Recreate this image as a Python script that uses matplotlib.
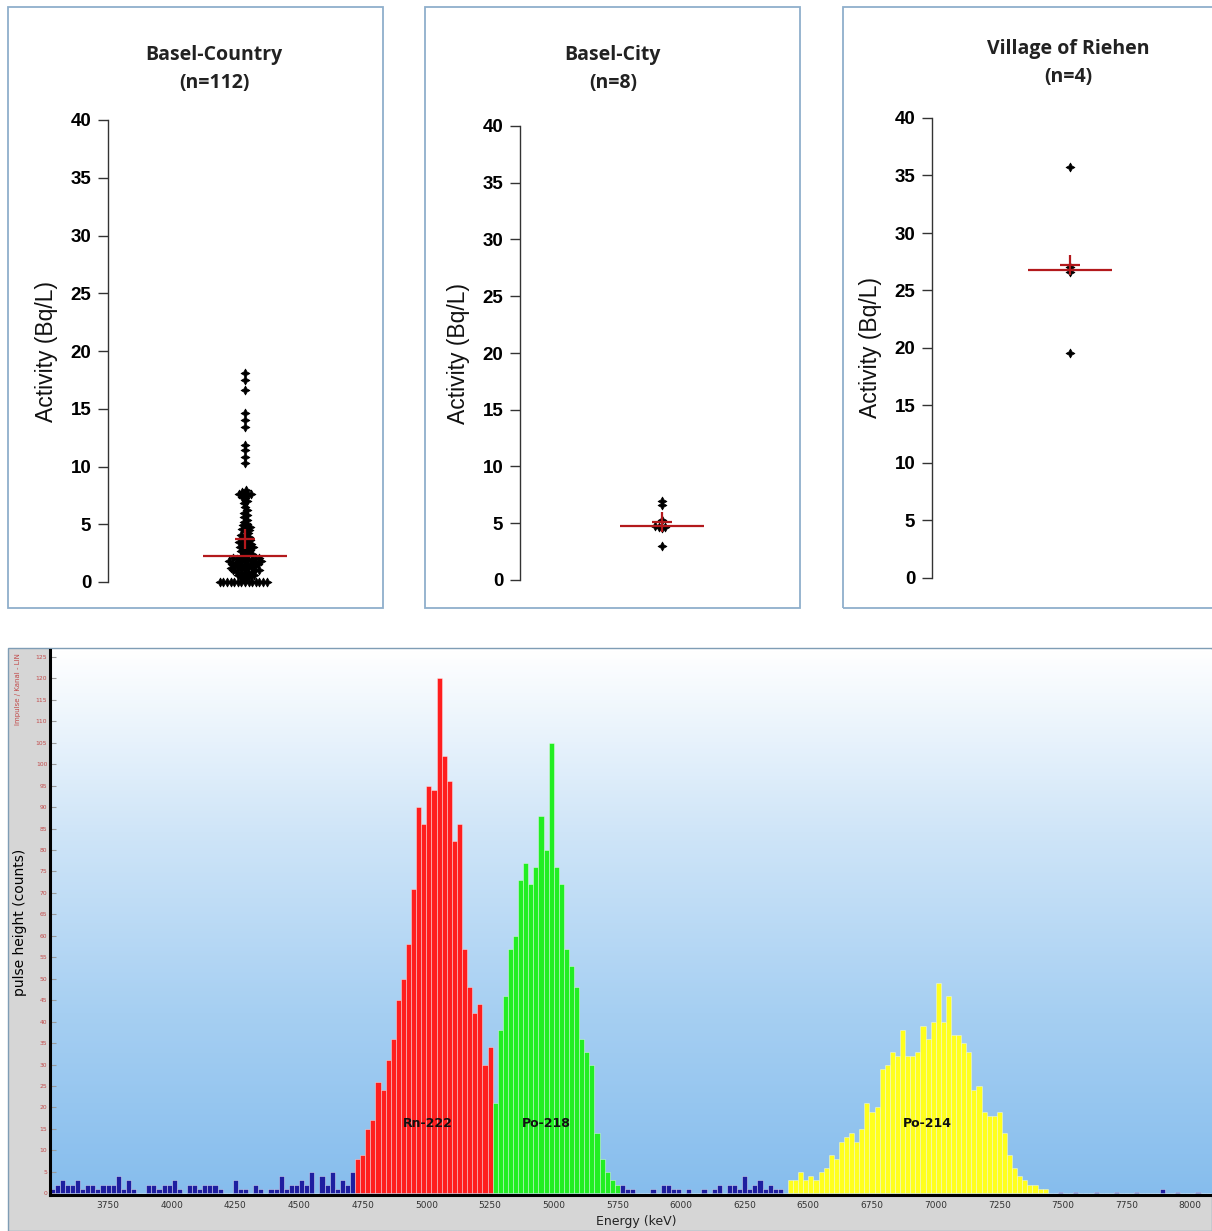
import numpy as np
import matplotlib.pyplot as plt
from matplotlib.patches import Rectangle
from matplotlib.colors import LinearSegmentedColormap

# === Data: radon activity per region (Bq/L) ===
titles = ["Basel-Country\n(n=112)", "Basel-City\n(n=8)", "Village of Riehen\n(n=4)"]

basel_country = [
    0.0, 0.0, 0.0, 0.0, 0.0, 0.0, 0.0, 0.0, 0.0, 0.0, 0.0, 0.0, 0.0, 0.0,
    0.3, 0.4, 0.4, 0.5, 0.6, 0.6, 0.7, 0.8, 0.8, 0.9, 0.9, 1.0,
    1.0, 1.0, 1.1, 1.1, 1.2, 1.2, 1.3, 1.3, 1.4, 1.4, 1.5, 1.5, 1.5,
    1.6, 1.6, 1.6, 1.7, 1.7, 1.8, 1.8, 1.8, 1.9, 1.9, 2.0, 2.0, 2.0,
    2.1, 2.1, 2.2, 2.2,
    2.3, 2.4, 2.5, 2.6, 2.7, 2.8, 2.9, 3.0,
    3.0, 3.1, 3.2, 3.3, 3.4, 3.5, 3.5, 3.6, 3.7, 3.8, 3.9, 4.0,
    4.1, 4.2, 4.4, 4.5, 4.6, 4.7, 4.8, 4.9, 5.0,
    5.2, 5.4, 5.6, 5.8, 6.0,
    6.2, 6.5, 6.8, 7.0,
    7.3, 7.4, 7.5, 7.6, 7.6, 7.7, 7.8, 8.0,
    10.3, 10.8, 11.4, 11.9,
    13.4, 14.0, 14.6,
    16.6, 17.5, 18.1,
]
basel_city = [7.0, 6.6, 5.3, 4.8, 4.7, 4.7, 4.6, 3.0]
riehen = [35.7, 27.0, 26.6, 19.6]
activity_sets = [basel_country, basel_city, riehen]

# === Data: alpha spectrum (counts per 20 keV bin) ===
bin_width = 20
noise_low_start = 3520
noise_low = [1, 2, 3, 2, 2, 3, 1, 2, 2, 1, 2, 2, 2, 4, 1, 3, 1, 0, 0, 2,
             2, 1, 2, 2, 3, 1, 0, 2, 2, 1, 2, 2, 2, 1, 0, 0, 3, 1, 1, 0,
             2, 1, 0, 1, 1, 4, 1, 2, 2, 3, 2, 5, 0, 4, 2, 5, 1, 3, 2, 5]
rn222_start = 4720
rn222 = [8, 9, 15, 17, 26, 24, 31, 36, 45, 50, 58, 71, 90, 86, 95, 94, 120,
         102, 96, 82, 86, 57, 48, 42, 44, 30, 34]
po218_start = 5260
po218 = [21, 38, 46, 57, 60, 73, 77, 72, 76, 88, 80, 105, 76, 72, 57, 53, 48,
         36, 33, 30, 14, 8, 5, 3, 2]
noise_mid_start = 5760
noise_mid = [2, 1, 1, 0, 0, 0, 1, 0, 2, 2, 1, 1, 0, 1, 0, 0, 1, 0, 1, 2,
             0, 2, 2, 1, 4, 1, 2, 3, 1, 2, 1, 1, 0]
po214_start = 6420
po214 = [3, 3, 5, 3, 4, 3, 5, 6, 9, 8, 12, 13, 14, 12, 15, 21, 19, 20, 29, 30,
         33, 32, 38, 32, 32, 33, 39, 36, 40, 49, 40, 46, 37, 37, 35, 33, 24, 25,
         19, 18, 18, 19, 14, 9, 6, 4, 3, 2, 2, 1, 1]
noise_high_start = 7440
noise_high = [0, 0, 0.3, 0, 0, 0.3, 0, 0, 0, 0.3, 0, 0, 0, 0.3, 0, 0, 0,
              0.3, 0, 0, 0, 0, 1, 0, 0, 0.3, 0, 0, 0, 0.3, 0, 0]

peak_names = ["Rn-222", "Po-218", "Po-214"]
peak_label_x = [5007, 5470, 6967]
peak_label_y = 16.3

energy_ticks = [3750, 4000, 4250, 4500, 4750, 5000, 5250, 5500, 5750, 6000,
                6250, 6500, 6750, 7000, 7250, 7500, 7750, 8000]
energy_tick_labels = ["3750", "4000", "4250", "4500", "4750", "5000", "5250",
                      "5000", "5750", "6000", "6250", "6500", "6750", "7000",
                      "7250", "7500", "7750", "8000"]

W, H = 1212, 1231
fig = plt.figure(figsize=(W / 100, H / 100), dpi=100)
fig.patch.set_facecolor("white")


def fx(x):
    return x / W


def fy(y):
    return 1 - y / H


def axes_px(x0, y0, x1, y1):
    return fig.add_axes([x0 / W, 1 - y1 / H, (x1 - x0) / W, (y1 - y0) / H])


def box_px(x0, y0, x1, y1, **kw):
    fig.add_artist(Rectangle((fx(x0), fy(y1)), (x1 - x0) / W, (y1 - y0) / H,
                             transform=fig.transFigure, **kw))


def swarm(values, ppu, d):
    # simple beeswarm in pixel space
    vals = np.asarray(values)
    xs = np.zeros(len(vals))
    placed = []
    for i in np.argsort(vals, kind="stable"):
        y = vals[i] * ppu
        near = [(px, py) for px, py in placed if abs(py - y) < d]
        cands = [0.0]
        for px, py in near:
            dx = np.sqrt(d * d - (py - y) ** 2)
            cands += [px - dx, px + dx]
        cands.sort(key=abs)
        for c in cands:
            if all((c - px) ** 2 + (y - py) ** 2 >= d * d - 1e-6 for px, py in near):
                xs[i] = c
                break
        placed.append((xs[i], y))
    return xs


# === Top panels ===
box_color = "#8FAFCB"
boxes = [(8, 7, 383, 608), (425, 7, 800, 608), (843, 7, 1215, 608)]
spine_x = [108, 520, 932]
y_zero = [582, 580, 578]
y_forty = [120, 126, 118]
centers = [245, 662, 1070]
title_pos = [(214, 69), (613, 69), (1068, 63)]
red = "#B3191C"

for k in range(3):
    box_px(*boxes[k], fill=False, ec=box_color, lw=1.3, zorder=-1)
    right = boxes[k][2] - 5
    ax = axes_px(spine_x[k], y_forty[k], right, y_zero[k])
    width_px = right - spine_x[k]
    ppu = (y_zero[k] - y_forty[k]) / 40.0
    vals = activity_sets[k]
    xs = swarm(vals, ppu, 3.6) + (centers[k] - spine_x[k])
    ax.scatter(xs, vals, marker=(4, 1, 0), s=40, color="black", lw=0.6,
               clip_on=False, zorder=3)
    cx = centers[k] - spine_x[k]
    med = np.median(vals)
    mean = np.mean(vals)
    ax.hlines(med, cx - 42, cx + 42, color=red, lw=1.6, zorder=4)
    ax.plot(cx, mean, marker="+", ms=14, mew=1.6, color=red, zorder=5)
    ax.set_xlim(0, width_px)
    ax.set_ylim(0, 40)
    ax.set_yticks(range(0, 41, 5))
    ax.set_xticks([])
    for s in ["top", "right", "bottom"]:
        ax.spines[s].set_visible(False)
    ax.spines["left"].set_color("#333333")
    ax.spines["left"].set_linewidth(1.0)
    ax.tick_params(axis="y", direction="out", length=7, width=1.0,
                   color="#333333", pad=5)
    for lab in ax.get_yticklabels():
        lab.set_fontfamily("Liberation Sans")
        lab.set_fontweight("bold")
        lab.set_fontsize(13.5)
    ax.patch.set_alpha(0)
    fig.text(fx(spine_x[k] - 62), fy((y_zero[k] + y_forty[k]) / 2),
             "Activity (Bq/L)", rotation=90, ha="center", va="center",
             fontsize=16.5, family="Liberation Sans", color="#111111")
    fig.text(fx(title_pos[k][0]), fy(title_pos[k][1]), titles[k],
             ha="center", va="center", fontsize=14, fontweight="bold",
             family="Open Sans", linespacing=1.5, color="#222222")

# === Spectrum panel ===
gray = "#D6D6D6"
box_px(8, 648, 49, 1231, color=gray, lw=0, zorder=-2)
box_px(8, 1196, 1212, 1231, color=gray, lw=0, zorder=-2)
box_px(8, 648, 1212, 1231, fill=False, ec="#7F9DB5", lw=1.0, zorder=-1)

axs = axes_px(50, 650, 1212, 1195)
x_lo, x_hi = 3522, 8085
y_lo, y_hi = -0.4, 126.6
grad = LinearSegmentedColormap.from_list(
    "bg", ["#86BDED", "#A6CFF2", "#CFE5F8", "#FFFFFF"])
axs.imshow(np.linspace(0, 1, 256).reshape(-1, 1), cmap=grad, origin="lower",
           extent=[x_lo, x_hi, y_lo, y_hi], aspect="auto", zorder=0)

segments = [
    (noise_low_start, noise_low, "#1E1EA0"),
    (rn222_start, rn222, "#FF1E1E"),
    (po218_start, po218, "#22EE22"),
    (noise_mid_start, noise_mid, "#1E1EA0"),
    (po214_start, po214, "#FFFF1E"),
    (noise_high_start, noise_high, "#1E1EA0"),
]
for start, counts, col in segments:
    lefts = start + bin_width * np.arange(len(counts))
    axs.bar(lefts, counts, width=bin_width, align="edge", color=col,
            edgecolor=(1, 1, 1, 0.45), linewidth=0.6, zorder=2)

for name, px in zip(peak_names, peak_label_x):
    axs.text(px, peak_label_y, name, ha="center", va="center", fontsize=9,
             fontweight="bold", color="#111111", zorder=5)

axs.set_xlim(x_lo, x_hi)
axs.set_ylim(y_lo, y_hi)
axs.set_xticks(energy_ticks)
axs.set_xticklabels(energy_tick_labels, fontsize=6.5, color="#333333")
axs.set_yticks(range(0, 126, 5))
axs.set_yticklabels([str(v) for v in range(0, 126, 5)], fontsize=4.3,
                    color="#C24A4A")
axs.tick_params(axis="x", length=0, pad=4)
axs.tick_params(axis="y", direction="in", length=4, color="#9A9A9A", pad=2)
for s in ["top", "right"]:
    axs.spines[s].set_visible(False)
axs.spines["left"].set_linewidth(2.2)
axs.spines["bottom"].set_linewidth(2.2)
axs.spines["left"].set_color("black")
axs.spines["bottom"].set_color("black")

fig.text(fx(18), fy(653), "Impulse / Kanal - LIN", rotation=90, ha="center",
         va="top", fontsize=5, color="#C24A4A")
fig.text(fx(20), fy(922), "pulse height (counts)", rotation=90, ha="center",
         va="center", fontsize=10, color="black")
fig.text(fx(636), fy(1222), "Energy (keV)", ha="center", va="center",
         fontsize=9, color="#222222")

plt.savefig("out.png", dpi=100)
